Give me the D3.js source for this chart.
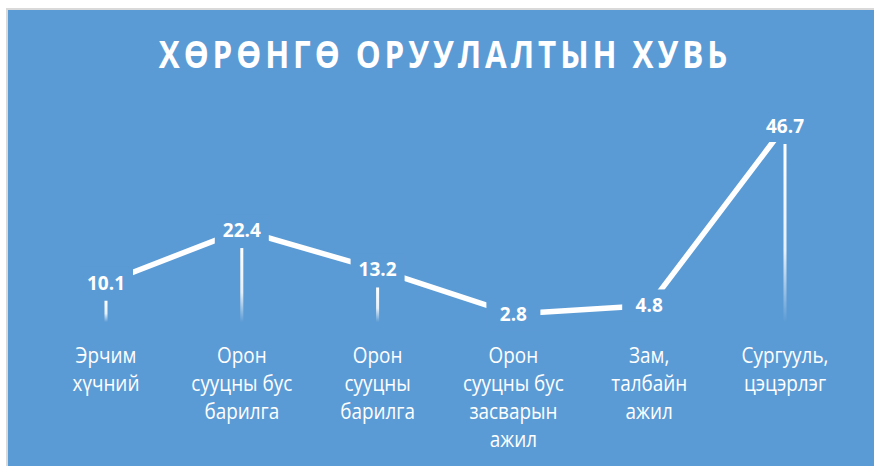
<!DOCTYPE html>
<html>
<head>
<meta charset="utf-8">
<style>
  body { margin: 0; background: #fff; }
  svg { display: block; }
</style>
</head>
<body>
<svg width="875" height="466"></svg>
<script src="https://cdn.jsdelivr.net/npm/d3@7"></script>
<script>
// data
const categories = [
  ["Эрчим", "хүчний"],
  ["Орон", "сууцны бус", "барилга"],
  ["Орон", "сууцны", "барилга"],
  ["Орон", "сууцны бус", "засварын", "ажил"],
  ["Зам,", "талбайн", "ажил"],
  ["Сургууль,", "цэцэрлэг"]
]
const values = [10.1, 22.4, 13.2, 2.8, 4.8, 46.7]
const title = "ХӨРӨНГӨ ОРУУЛАЛТЫН ХУВЬ"

const blue = "#5b9bd5"
const svg = d3.select("svg")

// panel + border
svg.append("rect").attr("x", 6).attr("y", 8).attr("width", 868).attr("height", 470)
  .attr("fill", "#d9d9d9")
svg.append("rect").attr("x", 8).attr("y", 10).attr("width", 866).attr("height", 470)
  .attr("fill", blue)

// gradient for drop lines
const grad = svg.append("defs").append("linearGradient")
  .attr("id", "fade").attr("x1", 0).attr("y1", 0).attr("x2", 0).attr("y2", 1)
grad.append("stop").attr("offset", "0%").attr("stop-color", "#fff").attr("stop-opacity", 1)
grad.append("stop").attr("offset", "60%").attr("stop-color", "#fff").attr("stop-opacity", 0.85)
grad.append("stop").attr("offset", "100%").attr("stop-color", "#fff").attr("stop-opacity", 0)

// scales
const x = d3.scalePoint().domain(d3.range(categories.length)).range([106, 785])
const y = d3.scaleLinear().domain([0, 46.7]).range([326, 126])

// title (narrow bold, scaled horizontally a bit)
svg.append("text")
  .attr("transform", "translate(445,68) scale(0.85,1)")
  .attr("text-anchor", "middle")
  .attr("font-family", "'Open Sans', 'Noto Sans', sans-serif")
  .attr("font-weight", "bold").attr("font-size", 37)
  .attr("letter-spacing", 4.6)
  .attr("fill", "#fff")
  .text(title)

// drop lines
svg.append("g").selectAll("rect").data(values).join("rect")
  .attr("x", (d, i) => x(i) - 1.5)
  .attr("y", d => y(d) + 18)
  .attr("width", 3)
  .attr("height", d => Math.max(0, y(0) - 4 - (y(d) + 18)))
  .attr("fill", "url(#fade)")

// line
const line = d3.line().x((d, i) => x(i)).y(d => y(d))
svg.append("path")
  .attr("d", line(values))
  .attr("fill", "none").attr("stroke", "#fff").attr("stroke-width", 5.5)
  .attr("stroke-linejoin", "round")

// data labels with background
const lab = svg.append("g").selectAll("g").data(values).join("g")
  .attr("transform", (d, i) => `translate(${x(i)},${y(d)})`)
lab.append("rect")
  .attr("x", -27).attr("y", -16).attr("width", 54).attr("height", 32)
  .attr("fill", blue)
lab.append("text")
  .attr("text-anchor", "middle").attr("dy", "0.36em")
  .attr("font-family", "'Open Sans', 'Noto Sans', sans-serif")
  .attr("font-weight", "bold").attr("font-size", 19)
  .attr("fill", "#fff")
  .text(d => d.toFixed(1))

// category labels
const cat = svg.append("g").selectAll("text").data(categories).join("text")
  .attr("transform", (d, i) => `translate(${x(i)},363) scale(0.9,1)`)
  .attr("text-anchor", "middle")
  .attr("font-family", "'Open Sans', sans-serif")
  .attr("font-size", 21)
  .attr("fill", "#fff")
cat.selectAll("tspan").data(d => d).join("tspan")
  .attr("x", 0)
  .attr("dy", (d, i) => i === 0 ? 0 : 28)
  .text(d => d)
</script>
</body>
</html>
